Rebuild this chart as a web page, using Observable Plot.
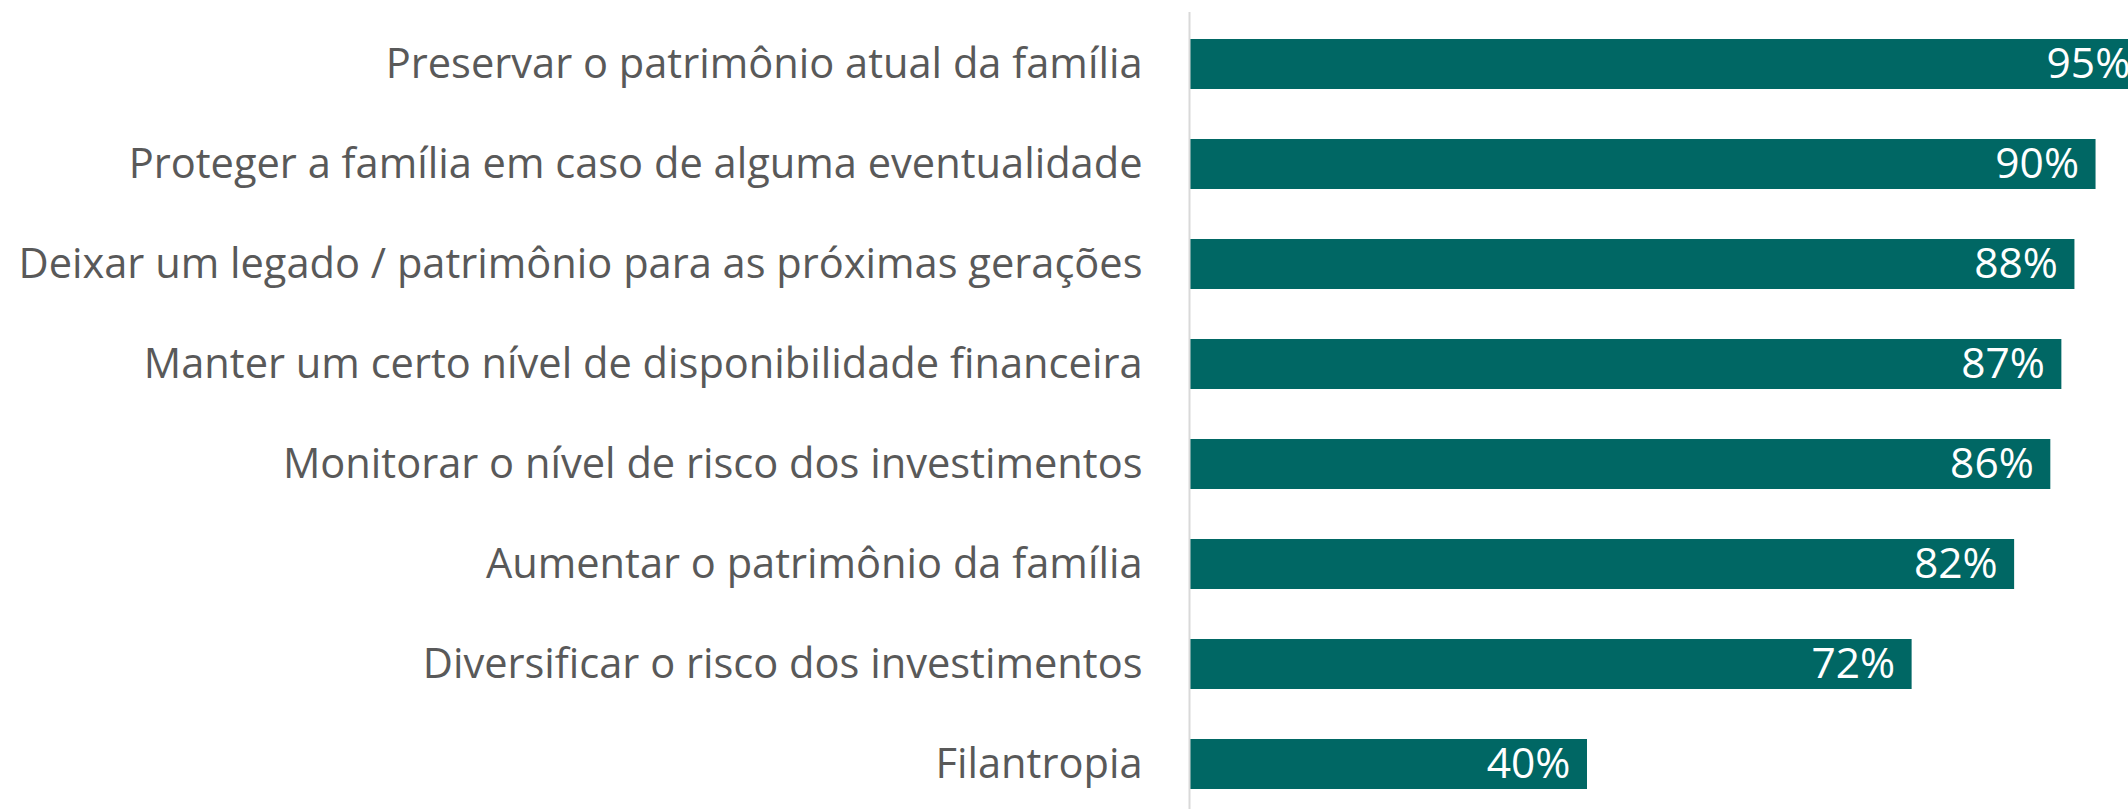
<!DOCTYPE html>
<html>
<head>
<meta charset="utf-8">
<script src="https://cdn.jsdelivr.net/npm/d3@7"></script>
<script src="https://cdn.jsdelivr.net/npm/@observablehq/plot@0.6"></script>
<style>
  html, body { margin: 0; padding: 0; background: #fff; overflow: hidden; }
  #chart svg { display: block; overflow: hidden; }
</style>
</head>
<body>
<div id="chart"></div>
<script>
const categories = [
  "Preservar o patrimônio atual da família",
  "Proteger a família em caso de alguma eventualidade",
  "Deixar um legado / patrimônio para as próximas gerações",
  "Manter um certo nível de disponibilidade financeira",
  "Monitorar o nível de risco dos investimentos",
  "Aumentar o patrimônio da família",
  "Diversificar o risco dos investimentos",
  "Filantropia"
];
const values = [95.3, 90.2, 88.1, 86.8, 85.7, 82.1, 71.9, 39.6];
const valueLabels = ["95%", "90%", "88%", "87%", "86%", "82%", "72%", "40%"];

const data = categories.map((c, i) => ({category: c, value: values[i], label: valueLabels[i]}));

const chart = Plot.plot({
  width: 2128,
  height: 809,
  marginLeft: 1189,
  marginRight: 0,
  marginTop: 12,
  marginBottom: 0,
  style: {fontFamily: "'Open Sans', sans-serif", background: "#fff"},
  x: {domain: [0, 93.43], axis: null},
  y: {domain: categories, range: [-13.6, 841.5], padding: 0.5, axis: null},
  marks: [
    Plot.barX(data, {x: "value", y: "category", fill: "#006764"}),
    Plot.ruleX([0], {stroke: "#d9d9d9", strokeWidth: 2}),
    Plot.text(data, {x: 0, y: "category", text: "category", textAnchor: "end", dx: -47,
      fill: "#595959", fontSize: 41.6}),
    Plot.text(data, {x: "value", y: "category", text: "label", textAnchor: "end", dx: -17,
      fill: "#ffffff", fontSize: 42.5})
  ]
});
document.getElementById("chart").appendChild(chart);
</script>
</body>
</html>
